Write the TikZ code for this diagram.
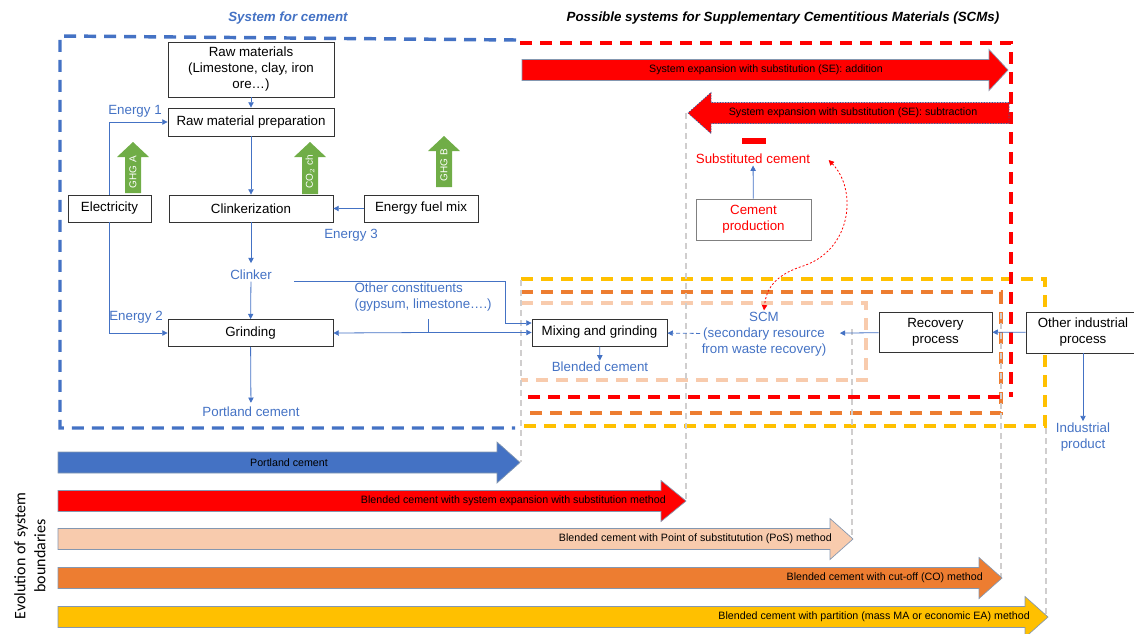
\documentclass[tikz,border=0pt]{standalone}
\usepackage{fontspec}
\setmainfont{Liberation Sans}
\newfontfamily\calibri{Carlito}
\usetikzlibrary{arrows.meta,positioning,calc}

\definecolor{cblue}{HTML}{4472C4}
\definecolor{cred}{HTML}{FF0000}
\definecolor{cpeach}{HTML}{F8CBAD}
\definecolor{corange}{HTML}{ED7D31}
\definecolor{cyellow}{HTML}{FFC000}
\definecolor{cgreen}{HTML}{70AD47}
\definecolor{cgrey}{HTML}{D0CECE}
\definecolor{cedge}{HTML}{8497B0}

% fat arrow: [style]{tail x}{tip x}{y}{head base x}
\newcommand{\fatarrow}[5][]{%
  \draw[fatline,#1] (#2,#4-10.5) -- (#5,#4-10.5) -- (#5,#4-20.5) -- (#3,#4)
    -- (#5,#4+20.5) -- (#5,#4+10.5) -- (#2,#4+10.5) -- cycle;}
% green up arrow: {x}{tip y}{bottom y}
\newcommand{\ghgarrow}[3]{%
  \fill[cgreen] (#1-8,#3) -- (#1-8,#2+15) -- (#1-16,#2+15) -- (#1,#2)
    -- (#1+16,#2+15) -- (#1+8,#2+15) -- (#1+8,#3) -- cycle;}

\tikzset{
  box/.style={draw=black!80, fill=white, line width=0.6pt, align=center,
    font=\fontsize{10}{12}\selectfont, inner sep=1pt},
  boxwh/.style 2 args={minimum width=#1*0.75pt, minimum height=#2*0.75pt},
  flow/.style={-{Triangle[length=4pt,width=4pt]}, draw=cblue, line width=0.6pt},
  lbl/.style={text=cblue, align=center, font=\fontsize{10}{12}\selectfont, inner sep=1pt},
  bound/.style={dash pattern=on 9pt off 6pt, line width=2.6pt},
  guide/.style={cgrey, dash pattern=on 4.5pt off 3pt, line width=1.4pt},
  fatline/.style={draw=cedge, line width=0.5pt},
  fattext/.style={font=\fontsize{8}{9}\selectfont, inner sep=0pt},
  ghgtext/.style={rotate=90, text=white, font=\fontsize{7.5}{8}\selectfont, inner sep=0pt},
  title/.style={font=\fontsize{10}{12}\selectfont\bfseries\itshape},
}

\begin{document}
\begin{tikzpicture}[x=0.75pt,y=-0.75pt]
  \useasboundingbox (0,0) rectangle (1134,633);
  \clip (0,0) rectangle (1134,633);

  % titles
  \node[title, text=cblue] (ttlcem) at (288,18) {System for cement};
  \node[title] (ttlscm) at (783,18) {Possible systems for Supplementary Cementitious Materials (SCMs)};

  % system boundaries
  \draw[bound, cblue] (516,40) -- (62,36) -- (60,36) -- (60,428) -- (515,428);
  \draw[bound, cyellow] (521,279) -- (1045,279) -- (1045,426) -- (521,426);
  \draw[bound, corange] (521,292) -- (1001,292) -- (1001,413) -- (521,413);
  \draw[bound, cpeach] (521,303) -- (866,303) -- (866,380) -- (521,380);
  \draw[bound, cred] (520,43) -- (1011,43) -- (1011,397);
  \draw[bound, cred] (1000,397) -- (521,397);

  % guide lines
  \draw[guide] (521,280) -- (521,462);
  \draw[guide] (686,113) -- (686,500);
  \draw[guide] (852,329) -- (852,539);
  \draw[guide] (1001,313) -- (1001,578);
  \draw[guide] (1046,428) -- (1046,617);

  % cement system
  \node[box, boxwh={166}{55}] (raw) at (251,69.5) {Raw materials\\(Limestone, clay, iron\\ore\ldots)};
  \node[box, boxwh={166}{28}] (prep) at (251,122) {Raw material preparation};
  \node[box, boxwh={164}{27}] (clink) at (251,208.5) {Clinkerization};
  \node[box, boxwh={83}{27}] (elec) at (109.5,208.5) {Electricity};
  \node[box, boxwh={114}{27}] (fuel) at (421,208.5) {Energy fuel mix};
  \node[box, boxwh={165}{27}] (grind) at (250.5,333) {Grinding};

  \node[lbl] (e1) at (135,111) {Energy 1};
  \node[lbl] (e2) at (136,317) {Energy 2};
  \node[lbl] (e3) at (351,235) {Energy 3};
  \node[lbl] (clinker) at (251,275) {Clinker};
  \node[lbl] (portland) at (251,412) {Portland cement};
  \node[lbl, align=left, anchor=west] (ocon) at (353,297) {Other constituents\\(gypsum, limestone\ldots.)};

  \ghgarrow{133}{142}{193}
  \ghgarrow{310}{142}{194}
  \ghgarrow{444}{136}{187}
  \node[ghgtext] (ghga) at (133,172) {GHG A};
  \node[ghgtext] (co2) at (310,172) {CO$_2$ ch};
  \node[ghgtext] (ghgb) at (444,165) {GHG B};

  \coordinate (c1) at (294,281);
  \coordinate (bend) at (505,323);
  \coordinate (jn) at (428,332.5);

  \draw[flow] (raw) -- (prep);
  \draw[flow] (elec.north) |- (prep.west);
  \draw[flow] (elec.south) |- (grind.west);
  \draw[flow] (prep) -- (clink);
  \draw[flow] (fuel) -- (clink);
  \draw[flow, shorten >=4pt] (clink) -- (clinker);
  \draw[flow] (clinker) -- (grind);
  \draw[flow, shorten >=2pt] (grind) -- (portland);
  \draw[cblue, line width=0.6pt] (jn) -- ++(0,-14);
  \draw[flow] (jn) -- (grind.east);

  % SCM system
  \node[box, boxwh={135}{27}] (mix) at (599.5,332.5) {Mixing and grinding};
  \node[lbl] (blended) at (600,367) {Blended cement};
  \node[lbl] (scm) at (764,334) {SCM\\(secondary resource\\from waste recovery)};
  \node[box, boxwh={113}{40}] (recov) at (935.5,332) {Recovery\\process};
  \node[box, boxwh={114}{41}] (other) at (1083,332.5) {Other industrial\\process};
  \node[lbl] (indprod) at (1083,437) {Industrial\\product};
  \node[box, draw=black!50, text=cred, boxwh={115}{41}] (cemprod) at (753.5,219.5) {Cement\\production};
  \node[lbl, text=cred] (subst) at (753,159) {Substituted cement};
  \fill[cred] (742,138) rectangle (766,144);

  \draw[flow] (c1) -| (bend) -- (bend -| mix.west);
  \draw[flow] (jn) -- (mix.west);
  \draw[flow] (mix) -- (blended);
  \draw[flow, dash pattern=on 3pt off 2pt] (scm) -- (mix);
  \draw[flow, shorten >=9pt] (recov) -- (scm);
  \draw[flow] (other) -- (recov);
  \draw[flow] (other) -- (indprod);
  \draw[flow] (cemprod) -- (subst);
  \draw[cred, line width=0.6pt, dash pattern=on 1.5pt off 1.5pt,
    {Triangle[length=4pt,width=4pt]}-{Triangle[length=4pt,width=4pt]}]
    ($(subst.east)+(17,1)$) .. controls (858,190) and (852,252) .. (800,267)
    .. controls (774,276) and (766,290) .. (scm.north);

  % system expansion arrows
  \fatarrow[fill=cred]{522}{1008}{70}{989}
  \fatarrow[fill=cred, draw=cblue!80!black, dash pattern=on 1pt off 1pt]{1009}{688}{113}{711}
  \node[fattext] (sea) at (766,70) {System expansion with substitution (SE): addition};
  \node[fattext] (ses) at (853,113) {System expansion with substitution (SE): subtraction};

  % evolution of system boundaries
  \fatarrow[fill=cblue]{58}{520}{462.5}{497}
  \fatarrow[fill=cred]{58}{686}{501}{661}
  \fatarrow[fill=cpeach]{58}{853}{539}{830}
  \fatarrow[fill=corange]{58}{1002}{578}{979}
  \fatarrow[fill=cyellow]{58}{1048}{617}{1025}
  \node[fattext] (pc) at (289,462.5) {Portland cement};
  \node[fattext, anchor=east] (bse) at (666,501) {Blended cement with system expansion with substitution method};
  \node[fattext, anchor=east] (bpos) at (832,539) {Blended cement with Point of substitutution (PoS) method};
  \node[fattext, anchor=east] (bco) at (983,578) {Blended cement with cut-off (CO) method};
  \node[fattext, anchor=east] (bpa) at (1030,617) {Blended cement with partition (mass MA or economic EA) method};
  \node[rotate=90, align=center, font=\calibri\fontsize{12}{15}\selectfont] (evo) at (30,556) {Evolution of system\\boundaries};
\end{tikzpicture}
\end{document}
